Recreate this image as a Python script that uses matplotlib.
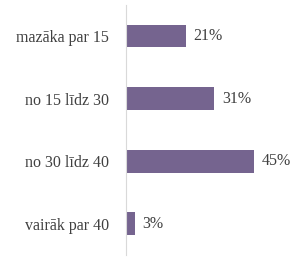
import matplotlib
matplotlib.use("Agg")
import matplotlib.pyplot as plt

categories = ["mazāka par 15", "no 15 līdz 30", "no 30 līdz 40", "vairāk par 40"]
values = [0.21, 0.31, 0.45, 0.03]

plt.rcParams['font.family'] = ['Liberation Serif', 'DejaVu Serif']

fig = plt.figure(figsize=(3.02, 2.6), dpi=100)
ax = fig.add_axes([126 / 302, 5 / 260, 170 / 302, 250 / 260])

ypos = range(len(categories))
ax.barh(ypos, values, height=0.36, color='#75648F')
ax.set_ylim(len(categories) - 0.5, -0.5)
ax.set_xlim(0, 0.6)

for y, v in zip(ypos, values):
    ax.text(v + 0.028, y, f"{round(v * 100)}%", va='center', ha='left',
            fontsize=11.5, color='#404040')

ax.set_yticks(list(ypos))
ax.set_yticklabels(categories, fontsize=11.5, color='#404040')
ax.tick_params(axis='y', length=0, pad=12)
ax.set_xticks([])
for s in ['top', 'right', 'bottom']:
    ax.spines[s].set_visible(False)
ax.spines['left'].set_color('#D9D9D9')
ax.spines['left'].set_linewidth(0.8)

fig.savefig("out.png", dpi=100)
